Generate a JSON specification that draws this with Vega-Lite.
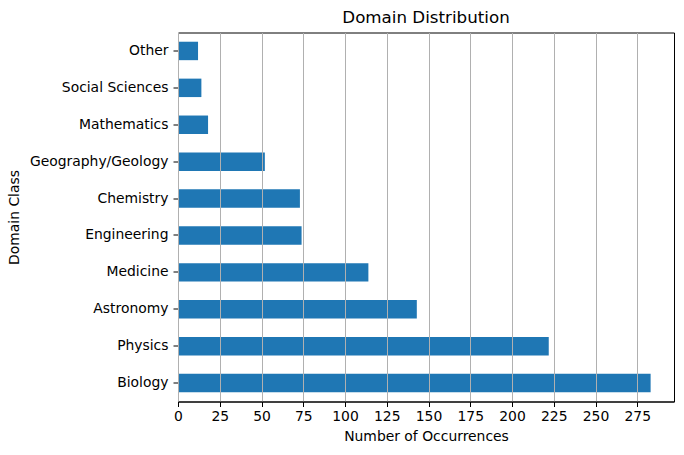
{
  "$schema": "https://vega.github.io/schema/vega-lite/v6.json",
  "autosize": {"type": "none"},
  "padding": {"left": 178, "top": 32.5, "right": 10, "bottom": 53.5},
  "width": 496,
  "height": 369,
  "title": {"text": "Domain Distribution", "fontSize": 16.7, "fontWeight": "normal", "font": "DejaVu Sans", "color": "black", "offset": 6},
  "config": {
    "view": {"stroke": "black", "strokeWidth": 1},
    "font": "DejaVu Sans",
    "axis": {"labelFont": "DejaVu Sans", "titleFont": "DejaVu Sans", "labelFontSize": 13.9, "titleFontSize": 13.9, "titleFontWeight": "normal", "labelColor": "black", "titleColor": "black", "domainColor": "black", "tickColor": "black", "tickSize": 5, "labelPadding": 5}
  },
  "data": {"values": [
    {"domain": "Biology", "count": 283},
    {"domain": "Physics", "count": 222},
    {"domain": "Astronomy", "count": 143},
    {"domain": "Medicine", "count": 114},
    {"domain": "Engineering", "count": 74},
    {"domain": "Chemistry", "count": 73},
    {"domain": "Geography/Geology", "count": 52},
    {"domain": "Mathematics", "count": 18},
    {"domain": "Social Sciences", "count": 14},
    {"domain": "Other", "count": 12}
  ]},
  "mark": {"type": "bar", "color": "#1f77b4"},
  "encoding": {
    "y": {"field": "domain", "type": "nominal",
      "sort": ["Other", "Social Sciences", "Mathematics", "Geography/Geology", "Chemistry", "Engineering", "Medicine", "Astronomy", "Physics", "Biology"],
      "scale": {"paddingInner": 0.5, "paddingOuter": 0.25},
      "axis": {"title": "Domain Class", "titlePadding": 8, "grid": false}},
    "x": {"field": "count", "type": "quantitative",
      "scale": {"domain": [0, 297], "nice": false, "zero": true},
      "axis": {"title": "Number of Occurrences", "values": [0, 25, 50, 75, 100, 125, 150, 175, 200, 225, 250, 275], "grid": true, "gridColor": "#b0b0b0", "gridWidth": 1, "zindex": 1, "titlePadding": 6, "labelPadding": 3, "labelFlush": false}}
  }
}
